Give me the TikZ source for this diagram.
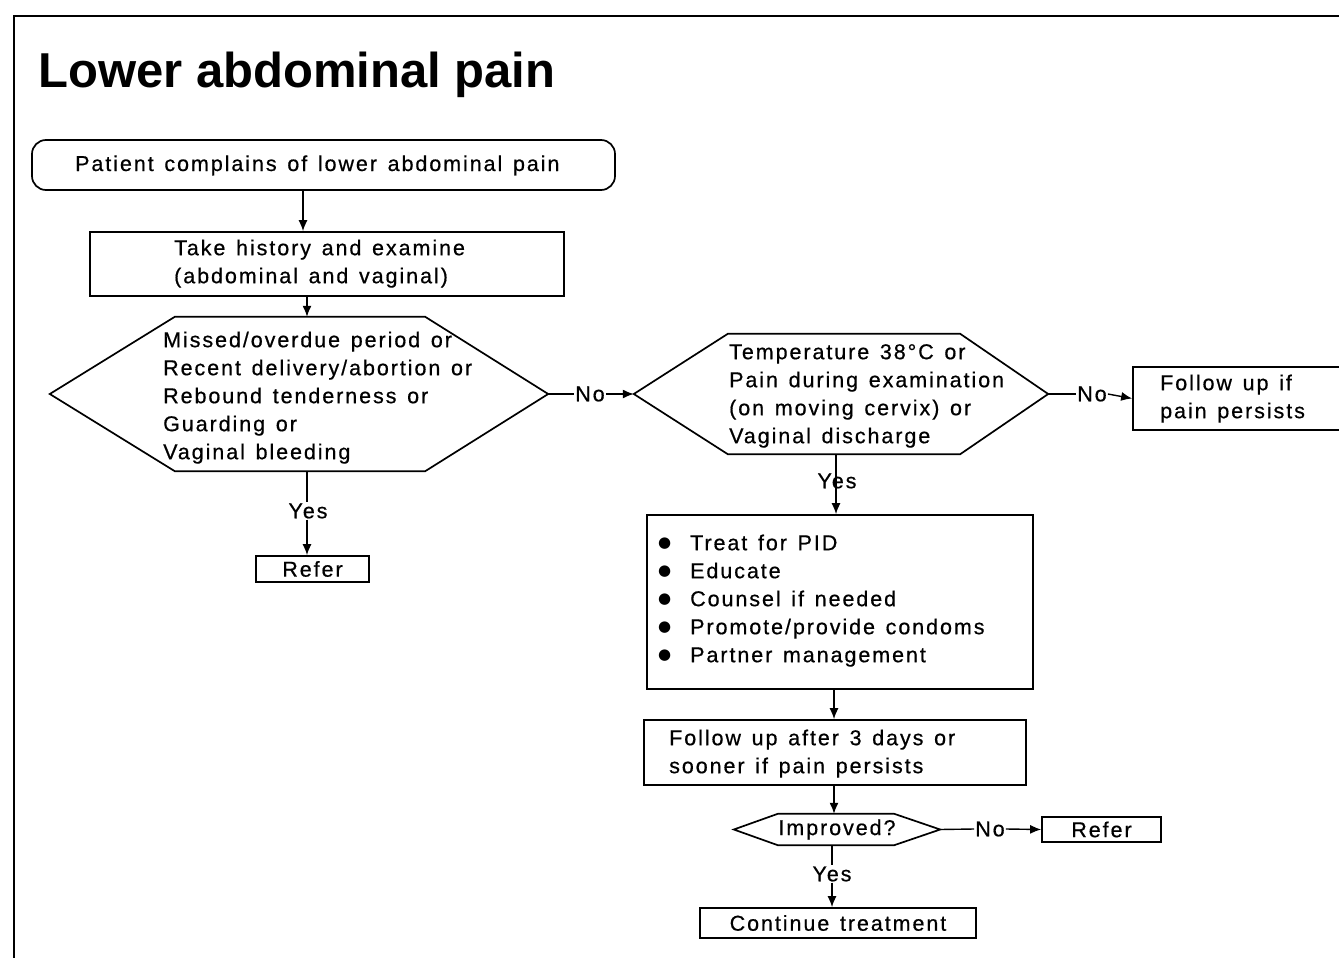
\documentclass[tikz,border=0pt]{standalone}
\usepackage{fontspec}
\setmainfont{Liberation Sans}[LetterSpace=9, WordSpace=1.35, FakeBold=0.6]
\newfontfamily\titlefont{Liberation Sans}
\newfontfamily\bulletfont{DejaVu Sans}
\newcommand{\bul}{\makebox[32pt][l]{\raisebox{2.3pt}{\bulletfont\fontsize{15}{15}\selectfont ●}}}
\usetikzlibrary{arrows.meta}
\tikzset{
  body/.style={font=\fontsize{21.5}{28}\selectfont, inner sep=0pt},
  box/.style={draw, line width=1.7pt, inner sep=0pt, font=\fontsize{21.5}{28}\selectfont},
  frame/.style={inner sep=0pt},
  hexline/.style={line width=1.7pt},
  conn/.style={line width=1.4pt},
  arr/.style={line width=1.4pt, -{Latex[length=11pt,width=9pt]}},
  lbl/.style={font=\fontsize{21.5}{28}\selectfont, inner sep=1pt},
}
\begin{document}
\begin{tikzpicture}[x=1pt,y=-1pt]
\useasboundingbox (0,0) rectangle (1339,958);
% outer frame
\draw[line width=2.5pt] (14,960) -- (14,16) -- (1342,16);
% title
\node[anchor=base west, inner sep=0pt, font=\titlefont\bfseries\fontsize{49}{58}\selectfont] (title) at (38,88) {Lower abdominal pain};

% start
\node[box, rounded corners=14pt, minimum width=583pt, minimum height=50pt] (start) at (323.5,165) {};
\node[body, anchor=base west] (startT) at (75,171) {Patient complains of lower abdominal pain};

% history box
\node[box, minimum width=474pt, minimum height=64pt] (b2) at (327,264) {};
\node[body, anchor=north west, align=left] (b2T) at (174,235.4) {\strut Take history and examine\\(abdominal and vaginal)};

% hexagon 1
\node[frame, minimum width=498pt, minimum height=154pt] (h1) at (299,394) {};
\draw[hexline] (h1.west) -- ([xshift=125pt]h1.north west) -- ([xshift=-123pt]h1.north east) -- (h1.east) -- ([xshift=-123pt]h1.south east) -- ([xshift=125pt]h1.south west) -- cycle;
\node[body, anchor=north west, align=left] (h1T) at (163,327.4) {\strut Missed/overdue period or\\Recent delivery/abortion or\\Rebound tenderness or\\Guarding or\\Vaginal bleeding};

% hexagon 2
\node[frame, minimum width=414pt, minimum height=120pt] (h2) at (841,394) {};
\draw[hexline] (h2.west) -- ([xshift=94pt]h2.north west) -- ([xshift=-88pt]h2.north east) -- (h2.east) -- ([xshift=-88pt]h2.south east) -- ([xshift=94pt]h2.south west) -- cycle;
\node[body, anchor=north west, align=left] (h2T) at (729,339.4) {\strut Temperature 38°C or\\Pain during examination\\(on moving cervix) or\\Vaginal discharge};

% follow up if pain persists
\node[box, minimum width=220pt, minimum height=63pt] (fu1) at (1243,398.5) {};
\node[body, anchor=north west, align=left] (fu1T) at (1160,370.4) {\strut Follow up if\\pain persists};

% refer 1
\node[box, minimum width=113pt, minimum height=26pt] (r1) at (312.5,569) {Refer};

% PID box
\node[box, minimum width=386pt, minimum height=174pt] (pid) at (840,602) {};
\node[body, anchor=north west, align=left] (pidT) at (658,530.4) {\strut\bul Treat for PID\\\bul Educate\\\bul Counsel if needed\\\bul Promote/provide condoms\\\bul Partner management};

% follow up after 3 days
\node[box, minimum width=382pt, minimum height=65pt] (fu2) at (835,752.5) {};
\node[body, anchor=north west, align=left] (fu2T) at (669,725.4) {\strut Follow up after 3 days or\\sooner if pain persists};

% improved
\node[frame, minimum width=206pt, minimum height=31pt, font=\fontsize{21.5}{28}\selectfont] (imp) at (837,829.5) {\raisebox{-1.5pt}{Improved?}};
\draw[hexline] (imp.west) -- ([xshift=44pt]imp.north west) -- ([xshift=-46pt]imp.north east) -- (imp.east) -- ([xshift=-46pt]imp.south east) -- ([xshift=44pt]imp.south west) -- cycle;

% refer 2
\node[box, minimum width=119pt, minimum height=25pt] (r2) at (1101.5,829.5) {Refer};

% continue treatment
\node[box, minimum width=276pt, minimum height=30pt] (cont) at (838,923) {Continue treatment};

% labels
\node[lbl] (yes1) at (308,511) {Yes};
\node[lbl] (no1) at (590,394) {No};
\node[lbl] (no2) at (1092,394) {No};
\node[lbl] (yes2) at (837,481) {Yes};
\node[lbl] (no3) at (990,829) {No};
\node[lbl] (yes3) at (832,874) {Yes};

% columns
\coordinate (cA) at (303,0);
\coordinate (cB) at (307,0);
\coordinate (cC) at (836,0);
\coordinate (cD) at (834,0);
\coordinate (cE) at (832,0);

% connectors
\draw[arr] (start.south -| cA) -- (b2.north -| cA);
\draw[arr] (b2.south -| cB) -- (h1.north -| cB);
\draw[conn] (h1.south -| cB) -- (yes1.north -| cB);
\draw[arr] (yes1.south -| cB) -- (r1.north -| cB);
\draw[conn] (h1.east) -- (no1.west);
\draw[arr] (no1.east) -- (h2.west);
\draw[conn] (h2.east) -- (no2.west);
\draw[arr] (no2.east) -- (fu1.west);
\draw[arr] (h2.south -| cC) -- (pid.north -| cC);
\draw[arr] (pid.south -| cD) -- (fu2.north -| cD);
\draw[arr] (fu2.south -| cD) -- (imp.north -| cD);
\draw[conn] (imp.east) -- (no3.west);
\draw[arr] (no3.east) -- (r2.west);
\draw[conn] (imp.south -| cE) -- (yes3.north -| cE);
\draw[arr] (yes3.south -| cE) -- (cont.north -| cE);
\end{tikzpicture}
\end{document}
